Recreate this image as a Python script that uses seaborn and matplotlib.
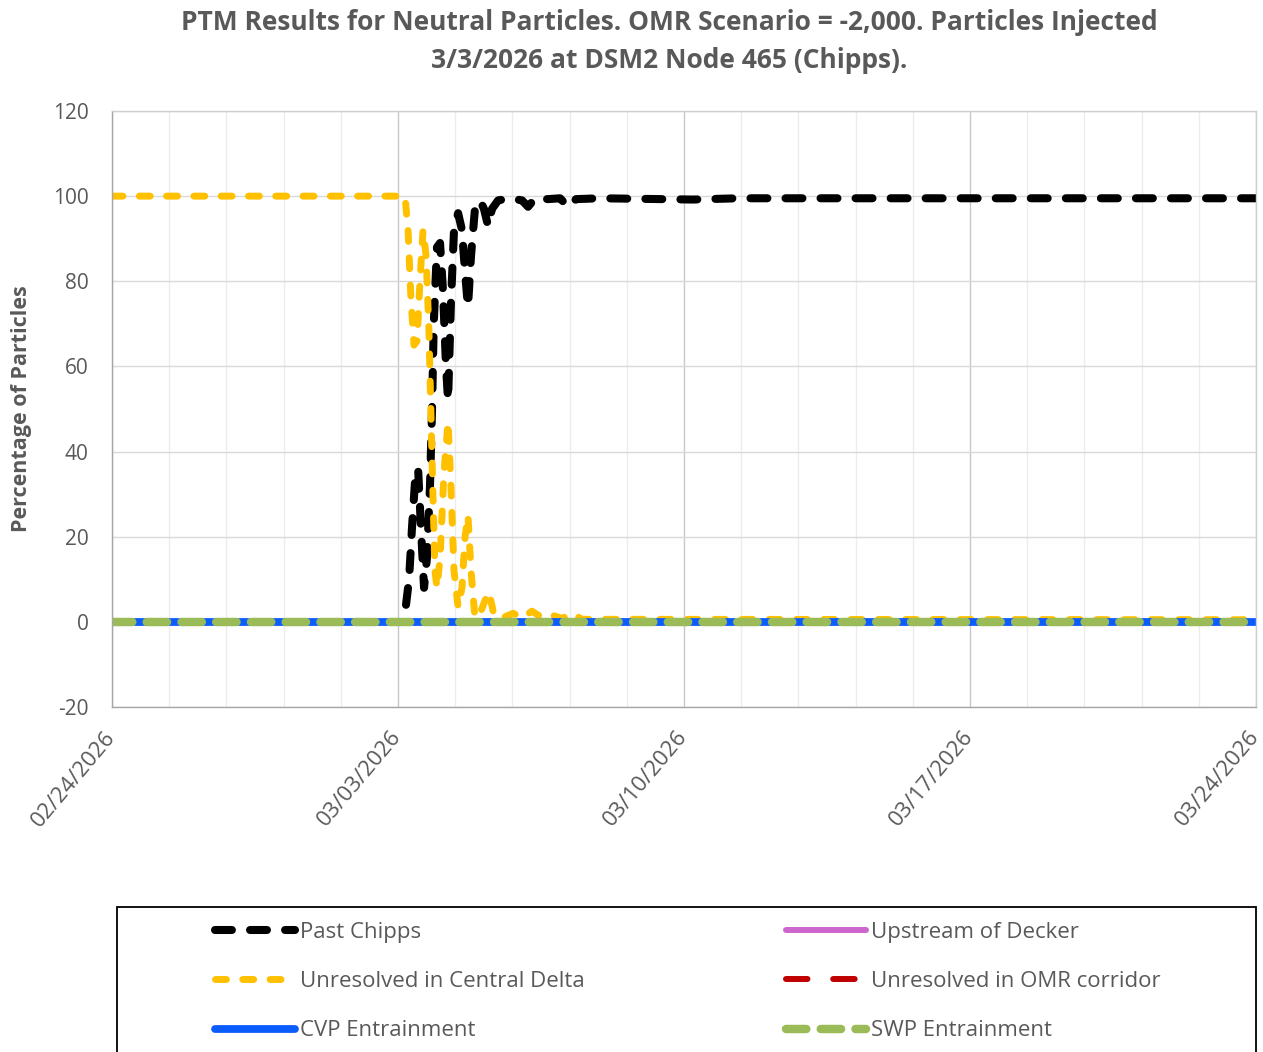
import pandas as pd
import matplotlib.pyplot as plt
import matplotlib.dates as mdates
from matplotlib.patches import Rectangle
import seaborn as sns

sns.set_theme(style="white")
plt.rcParams["font.family"] = ["Open Sans", "DejaVu Sans"]
plt.rcParams["axes.unicode_minus"] = False

GRAY = "#595959"

start = pd.Timestamp("2026-02-24")
inject = pd.Timestamp("2026-03-03")
end = pd.Timestamp("2026-03-24")

# hours after injection (negative = before) and percent of particles
chipps_hours = [4.7, 6.5, 8.2, 10, 11.8, 13.5, 15.3, 17, 18.8, 20, 21, 22.9, 24.7,
                26.4, 28.2, 29.4, 31.1, 32.9, 35.3, 37.6, 39.4, 41.1, 42.9, 45.2,
                48.2, 50.5, 52.9, 55.2, 58.8, 65.8, 72.9, 76.4, 80.5, 88.1, 95.2,
                99.9, 104.6, 118.7, 173, 200, 504]
chipps_pct = [4, 10, 22, 33, 36, 22, 8, 15, 32, 50, 70, 88, 89,
              78, 60, 52, 75, 92, 96, 92, 82, 74, 86, 97,
              99, 97, 93, 97, 99, 99.5, 99, 97.5, 99.5, 99.3, 99.5,
              97.5, 99.3, 99.5, 99.2, 99.5, 99.5]

delta_hours = [-168, 0, 4.1, 5.9, 7.6, 9.4, 11.2, 12.9, 14.7, 16.5, 18.2, 20, 21.7,
               22.9, 24.7, 27, 29.4, 31.1, 32.9, 35.3, 37.6, 39.4, 41.1, 42.9,
               45.2, 48.2, 51.1, 53.5, 56.4, 61.7, 67.6, 72.9, 78.7, 84.6, 91.1,
               96.4, 102.2, 108.1, 504]
delta_pct = [100, 100, 100, 92, 76, 65, 66, 80, 92, 86, 68, 38, 12,
             8, 15, 35, 47, 32, 12, 3.5, 8, 20, 25, 12,
             1, 2, 5, 7, 1.5, 1, 2, 1, 2.5, 1, 1.5,
             0.8, 2, 0.6, 0.5]

flat_hours = [-168, 504]
cvp_pct = [0, 0]
decker_pct = [0, 0]
omr_pct = [0, 0]
swp_pct = [0, 0]


def to_time(hours):
    return inject + pd.to_timedelta(hours, unit="h")


# label, hours, values, color, linewidth (pt), dash pattern (None = solid)
series = [
    ("Past Chipps", chipps_hours, chipps_pct, "#000000", 5.8, (2.1, 2.25)),
    ("Unresolved in Central Delta", delta_hours, delta_pct, "#ffc000", 5.0, (1.57, 2.36)),
    ("Upstream of Decker", flat_hours, decker_pct, "#cc66cc", 4.3, None),
    ("Unresolved in OMR corridor", flat_hours, omr_pct, "#c00000", 4.3, (3.6, 4.3)),
    ("CVP Entrainment", flat_hours, cvp_pct, "#0b5cff", 5.6, None),
    ("SWP Entrainment", flat_hours, swp_pct, "#9bbb59", 6.1, (2.4, 1.7)),
]

fig = plt.figure(figsize=(12.63, 10.52), dpi=100)
ax = fig.add_axes([112 / 1263, 1 - 707 / 1052, 1144 / 1263, 596 / 1052])

for label, hrs, vals, color, lw, dash in series:
    style = "-" if dash is None else (0, dash)
    sns.lineplot(x=to_time(hrs), y=vals, ax=ax, color=color, linewidth=lw,
                 linestyle=style, dash_capstyle="round", solid_capstyle="round",
                 label=label)

ax.set_xlim(start, end)
ax.set_ylim(-20, 120)
ax.set_yticks(range(-20, 121, 20))
ax.set_xticks(pd.date_range(start, end, freq="7D"))
ax.set_xticks([start + pd.Timedelta(days=1.4 * k) for k in range(21)], minor=True)
ax.xaxis.set_major_formatter(mdates.DateFormatter("%m/%d/%Y"))

ax.set_axisbelow(True)
ax.yaxis.grid(True, color="#d9d9d9", lw=1)
ax.xaxis.grid(True, which="major", color="#c8c8c8", lw=1)
ax.xaxis.grid(True, which="minor", color="#ececec", lw=1)

ax.tick_params(axis="both", which="both", length=0, labelcolor=GRAY)
ax.tick_params(axis="x", pad=19, labelsize=16)
ax.tick_params(axis="y", pad=17, labelsize=15)
for lbl in ax.get_xticklabels():
    lbl.set_rotation(50)
    lbl.set_ha("right")
    lbl.set_va("center")
    lbl.set_rotation_mode("anchor")

for side, spine in ax.spines.items():
    spine.set_color("#a6a6a6" if side in ("left", "bottom") else "#cfcfcf")
    spine.set_linewidth(1)

ax.set_xlabel("")
ax.set_ylabel("Percentage of Particles", fontsize=15.5, fontweight="bold", color=GRAY)
ax.yaxis.label.set_va("center")
ax.yaxis.set_label_coords(-0.0787, 0.5)

fig.text(669 / 1263, 1 - 23 / 1052,
         "PTM Results for Neutral Particles. OMR Scenario = -2,000. Particles Injected",
         ha="center", va="center", fontsize=19, fontweight="bold", color=GRAY)
fig.text(669 / 1263, 1 - 61 / 1052, "3/3/2026 at DSM2 Node 465 (Chipps).",
         ha="center", va="center", fontsize=19, fontweight="bold", color=GRAY)

# legend
handles, labels = ax.get_legend_handles_labels()
ax.get_legend().remove()
order = ["Past Chipps", "Unresolved in Central Delta", "CVP Entrainment",
         "Upstream of Decker", "Unresolved in OMR corridor", "SWP Entrainment"]
lookup = dict(zip(labels, handles))
fig.patches.append(Rectangle((117 / 1263, -0.01), (1256 - 117) / 1263,
                             (1052 - 907) / 1052 + 0.01, transform=fig.transFigure,
                             fill=False, ec="black", lw=1.3))
fig.legend([lookup[k] for k in order], order, loc="upper left",
           bbox_to_anchor=(215 / 1263, 1 - 922 / 1052), ncol=2, frameon=False,
           fontsize=16, handlelength=3.6, handletextpad=0.23, columnspacing=9.05,
           labelspacing=1.27, borderpad=0, borderaxespad=0, labelcolor=GRAY)

fig.savefig("out.png", dpi=100)
